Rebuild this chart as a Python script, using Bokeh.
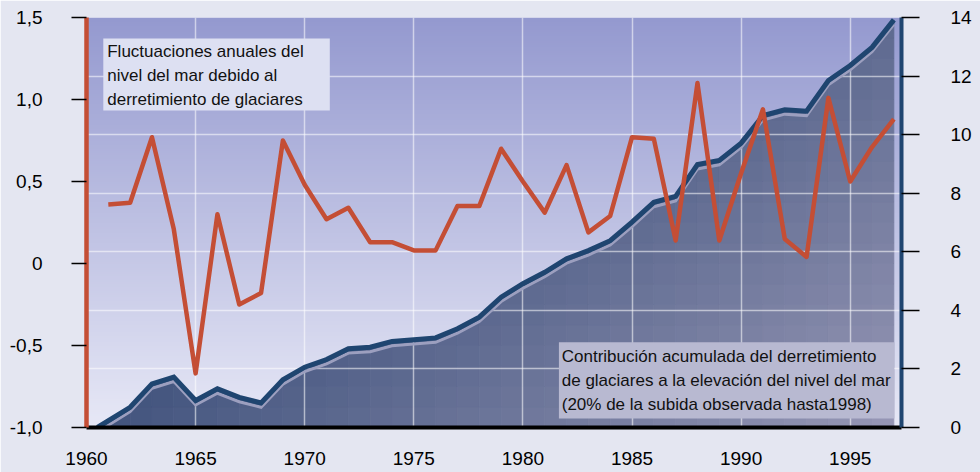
import numpy as np
from bokeh.plotting import figure
from bokeh.models import (Range1d, LinearAxis, FixedTicker, Grid, Label, BoxAnnotation,
                          ColumnDataSource, CustomJSTickFormatter)
from bokeh.transform import dodge
from bokeh.embed import file_html
from bokeh.resources import INLINE

# ---------------- data ----------------
red_years = list(range(1961, 1998))
red_values = [0.36, 0.37, 0.77, 0.21, -0.67, 0.30, -0.25, -0.18, 0.75, 0.48,
              0.27, 0.34, 0.13, 0.13, 0.08, 0.08, 0.35, 0.35, 0.70, 0.50,
              0.31, 0.60, 0.19, 0.29, 0.77, 0.76, 0.14, 1.10, 0.14, 0.55,
              0.94, 0.15, 0.04, 1.01, 0.50, 0.71, 0.88]

cum_years = [1960.5] + list(range(1962, 1998))
cum_values = [0.0, 0.69, 1.49, 1.72, 0.92, 1.32, 1.03, 0.84, 1.63, 2.06,
              2.32, 2.69, 2.74, 2.94, 3.00, 3.06, 3.37, 3.77, 4.45, 4.91,
              5.30, 5.76, 6.04, 6.38, 7.01, 7.69, 7.89, 8.98, 9.12, 9.71,
              10.65, 10.85, 10.80, 11.85, 12.36, 12.98, 13.92]

x_ticks = [1960, 1965, 1970, 1975, 1980, 1985, 1990, 1995]
left_ticks = [-1.0, -0.5, 0.0, 0.5, 1.0, 1.5]
right_ticks = [0, 2, 4, 6, 8, 10, 12, 14]

label_annual = "Fluctuaciones anuales del\nnivel del mar debido al\nderretimiento de glaciares"
label_cum = ("Contribución acumulada del derretimiento\n"
             "de glaciares a la elevación del nivel del mar\n"
             "(20% de la subida observada hasta1998)")

X0, X1 = 1960.0, 1997.35
L0, L1 = -1.0, 1.5
R0, R1 = 0.0, 14.0

FONT = "Liberation Sans"
PAGE_BG = "#e4e6f1"
RED = "#c44e35"
BLUE = "#1f4570"

p = figure(width=980, height=472,
           x_range=Range1d(X0, X1), y_range=Range1d(L0, L1),
           output_backend="svg", toolbar_location=None,
           min_border_left=86, min_border_right=79, min_border_top=17, min_border_bottom=45)
p.extra_y_ranges = {"right": Range1d(R0, R1)}
p.background_fill_color = PAGE_BG
p.border_fill_color = PAGE_BG
p.outline_line_color = None

# ---------------- background gradient of the plot area ----------------
n = 200
top_c = np.array([148, 153, 207], dtype=float)
bot_c = np.array([231, 232, 246], dtype=float)
f = np.linspace(0, 1, n)[:, None]
rgb = bot_c + (top_c - bot_c) * f
img = np.empty((n, 2), dtype=np.uint32)
view = img.view(dtype=np.uint8).reshape((n, 2, 4))
for k in range(3):
    view[:, :, k] = np.round(rgb[:, k])[:, None]
view[:, :, 3] = 255
p.image_rgba(image=[img], x=X0, y=L0, dw=X1 - X0, dh=L1 - L0, level="image")

# ---------------- gradient fill under the cumulative curve ----------------
def clip_band(poly, lo, hi):
    def clip(pts, inside, cross):
        out = []
        for i in range(len(pts)):
            cur, prev = pts[i], pts[i - 1]
            if inside(cur):
                if not inside(prev):
                    out.append(cross(prev, cur))
                out.append(cur)
            elif inside(prev):
                out.append(cross(prev, cur))
        return out

    def ix(a, b, yv):
        t = (yv - a[1]) / (b[1] - a[1])
        return (a[0] + t * (b[0] - a[0]), yv)

    pts = clip(poly, lambda q: q[1] >= lo, lambda a, b: ix(a, b, lo))
    if pts:
        pts = clip(pts, lambda q: q[1] <= hi, lambda a, b: ix(a, b, hi))
    return pts

cA = np.array([66, 84, 126], dtype=float)    # t = 0.4
cB = np.array([152, 152, 182], dtype=float)  # t = 1.0

def fill_col(x, v):
    xf = (x - X0) / (X1 - X0)
    yf = 1 - (v - R0) / (R1 - R0)
    t = 0.6 * xf + 0.4 * yf
    s = (t - 0.4) / 0.6
    c = cA + (cB - cA) * s
    c = np.clip(c, 0, 255)
    return "#%02x%02x%02x" % tuple(int(round(z)) for z in c)

levels = np.linspace(R0, R1, 21)
fx, fy, fc = [], [], []
for i in range(len(cum_years) - 1):
    xa, xb = cum_years[i], cum_years[i + 1]
    va, vb = cum_values[i], cum_values[i + 1]
    poly = [(xa, R0), (xb, R0), (xb, vb), (xa, va)]
    for lo, hi in zip(levels[:-1], levels[1:]):
        part = clip_band(poly, lo, hi)
        if len(part) < 3:
            continue
        px = [q[0] for q in part]
        py = [q[1] for q in part]
        fx.append(px)
        fy.append(py)
        fc.append(fill_col(float(np.mean(px)), float(np.mean(py))))
fill_src = ColumnDataSource(dict(xs=fx, ys=fy, c=fc))
p.patches(xs="xs", ys="ys", fill_color="c", line_color="c", line_width=0.8,
          source=fill_src, y_range_name="right", level="image")

# ---------------- grids ----------------
p.xgrid.ticker = FixedTicker(ticks=x_ticks[1:])
p.xgrid.grid_line_color = "white"
p.xgrid.grid_line_alpha = 0.55
p.xgrid.grid_line_width = 1.5
p.xgrid.level = "underlay"
p.ygrid.visible = False
rgrid = Grid(dimension=1, ticker=FixedTicker(ticks=right_ticks[1:-1]), y_range_name="right",
             grid_line_color="white", grid_line_alpha=0.55, grid_line_width=1.5, level="underlay")
p.add_layout(rgrid)

# ---------------- lines ----------------
cum_src = ColumnDataSource(dict(x=cum_years, v=cum_values))
p.line("x", dodge("v", -0.15), source=cum_src, y_range_name="right",
       line_color="#9c9fbf", line_width=3, line_join="miter")
p.line("x", "v", source=cum_src, y_range_name="right",
       line_color=BLUE, line_width=5, line_join="miter")
p.line(red_years, red_values, line_color=RED, line_width=4.5, line_join="round")

# ---------------- axes ----------------
xa = p.xaxis[0]
xa.ticker = FixedTicker(ticks=x_ticks)
xa.axis_line_color = "black"
xa.axis_line_width = 4
xa.major_tick_out = 0
xa.major_tick_in = 0
xa.minor_tick_line_color = None
xa.major_label_standoff = 24
xa.major_label_text_font = FONT
xa.major_label_text_font_size = "19px"
xa.major_label_text_color = "black"

ya = p.yaxis[0]
ya.ticker = FixedTicker(ticks=left_ticks)
ya.formatter = CustomJSTickFormatter(
    code="return tick == 0 ? '0' : tick.toFixed(1).replace('.', ',');")
ya.axis_line_color = RED
ya.axis_line_width = 4.5
ya.major_tick_line_color = "black"
ya.major_tick_line_width = 1.5
ya.major_tick_out = 15
ya.major_tick_in = 0
ya.minor_tick_line_color = None
ya.major_label_standoff = 29
ya.major_label_text_font = FONT
ya.major_label_text_font_size = "19px"
ya.major_label_text_color = "black"

ra = LinearAxis(y_range_name="right", ticker=FixedTicker(ticks=right_ticks))
ra.axis_line_color = BLUE
ra.axis_line_width = 4
ra.major_tick_line_color = "black"
ra.major_tick_line_width = 1.5
ra.major_tick_out = 18
ra.major_tick_in = 0
ra.minor_tick_line_color = None
ra.major_label_standoff = 31
ra.major_label_text_font = FONT
ra.major_label_text_font_size = "19px"
ra.major_label_text_color = "black"
p.add_layout(ra, "right")

# ---------------- text boxes ----------------
box1 = BoxAnnotation(left=1960.77, right=1971.15, top=1.372, bottom=0.933,
                     fill_color="#dde0f2", fill_alpha=1.0, line_color=None, level="annotation")
p.add_layout(box1)
p.add_layout(Label(x=1960.95, y=1.348, text=label_annual, text_font=FONT,
                   text_font_size="17px", text_color="#111111", text_align="left",
                   text_baseline="top", text_line_height=1.25, level="annotation"))

box2 = BoxAnnotation(left=1981.65, right=1997.02, top=-0.480, bottom=-0.945,
                     fill_color="#b8b9d1", fill_alpha=1.0, line_color=None, level="annotation")
p.add_layout(box2)
p.add_layout(Label(x=1981.78, y=-0.512, text=label_cum, text_font=FONT,
                   text_font_size="17px", text_color="#111111", text_align="left",
                   text_baseline="top", text_line_height=1.25, level="annotation"))

open("out.html", "w").write(file_html(p, INLINE))
